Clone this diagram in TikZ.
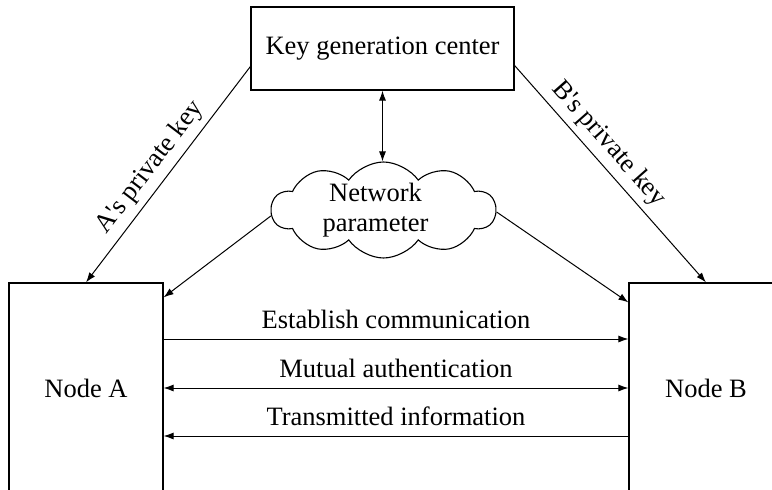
\documentclass[tikz,border=0pt]{standalone}
\usepackage{fontspec}
\setmainfont{Liberation Serif}[Ligatures=TeXOff]
\usetikzlibrary{shapes.symbols,calc,arrows.meta}

\tikzset{
  box/.style={draw, line width=1.2pt, inner sep=0pt, font=\fontsize{26.5}{30}\selectfont},
  netcloud/.style={draw, cloud, cloud puffs=10, cloud puff arc=110, aspect=2.3,
    line width=1.1pt, inner sep=0pt, minimum width=224pt, minimum height=96pt},
  link/.style={line width=1pt, -{Latex[length=10pt,width=7pt]}},
  linkboth/.style={line width=1pt, {Latex[length=10pt,width=7pt]}-{Latex[length=10pt,width=7pt]}},
  lbl/.style={font=\fontsize{26.5}{30}\selectfont, inner sep=2pt}
}

\begin{document}
\begin{tikzpicture}[x=1pt, y=-1pt]

  % Page frame (pixel grid of the reference)
  \useasboundingbox (0,0) rectangle (772,490);
  \clip (0,0) rectangle (772,490);

  % Boxes
  \node[box, minimum width=263pt, minimum height=83pt] (kgc) at (382.5,48.5) {Key generation center};
  \node[box, minimum width=154pt, minimum height=210pt] (nodeA) at (86,388) {Node A};
  \node[box, minimum width=154pt, minimum height=210pt] (nodeB) at (706,388) {Node B};

  % Network cloud
  \node[netcloud] (net) at (383.5,210) {};
  \node[lbl, align=center] (netlbl) at ([xshift=-8pt]net.center) {Network\\parameter};

  % Private keys
  \draw[link] ([yshift=-18pt]kgc.west) -- (nodeA.north)
    node[lbl, pos=0.52, sloped, above=4pt] {A's private key};
  \draw[link] ([yshift=-17pt]kgc.east) -- (nodeB.north)
    node[lbl, pos=0.42, sloped, above=4pt] {B's private key};

  % Parameters
  \draw[linkboth] (kgc.south) -- (kgc.south |- net.north);
  \draw[link] (net.183) -- ([yshift=-15pt]nodeA.north east);
  \draw[link] (net.-1) -- ([yshift=-20pt]nodeB.north west);

  % Communication between nodes
  \draw[link] ([yshift=49pt]nodeA.east) -- ([yshift=49pt]nodeB.west)
    node[lbl, midway, above=8pt] {Establish communication};
  \draw[linkboth] (nodeA.east) -- (nodeB.west)
    node[lbl, midway, above=8pt] {Mutual authentication};
  \draw[link] ([yshift=-48pt]nodeB.west) -- ([yshift=-48pt]nodeA.east)
    node[lbl, midway, above=8pt] {Transmitted information};

\end{tikzpicture}
\end{document}
